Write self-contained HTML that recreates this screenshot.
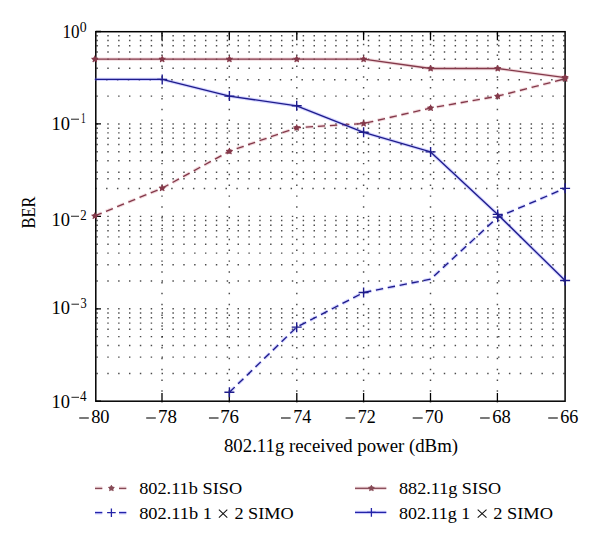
<!DOCTYPE html>
<html><head><meta charset="utf-8"><style>
html,body{margin:0;padding:0;background:#fff;}
body{width:600px;height:547px;overflow:hidden;font-family:"Liberation Serif",serif;}
svg{display:block;}
</style></head><body><svg width="600" height="547" viewBox="0 0 600 547"><g stroke="#000" stroke-width="1.45" stroke-dasharray="1.45 9.405" opacity="0.7"><line x1="96.42" y1="373.40" x2="564.50" y2="373.40"/><line x1="96.42" y1="357.12" x2="564.50" y2="357.12"/><line x1="96.42" y1="345.57" x2="564.50" y2="345.57"/><line x1="96.42" y1="336.61" x2="564.50" y2="336.61"/><line x1="96.42" y1="329.30" x2="564.50" y2="329.30"/><line x1="96.42" y1="323.11" x2="564.50" y2="323.11"/><line x1="96.42" y1="317.75" x2="564.50" y2="317.75"/><line x1="96.42" y1="313.02" x2="564.50" y2="313.02"/><line x1="96.42" y1="308.79" x2="564.50" y2="308.79"/><line x1="96.42" y1="280.97" x2="564.50" y2="280.97"/><line x1="96.42" y1="264.69" x2="564.50" y2="264.69"/><line x1="96.42" y1="253.14" x2="564.50" y2="253.14"/><line x1="96.42" y1="244.18" x2="564.50" y2="244.18"/><line x1="96.42" y1="236.87" x2="564.50" y2="236.87"/><line x1="96.42" y1="230.68" x2="564.50" y2="230.68"/><line x1="96.42" y1="225.32" x2="564.50" y2="225.32"/><line x1="96.42" y1="220.59" x2="564.50" y2="220.59"/><line x1="96.42" y1="216.36" x2="564.50" y2="216.36"/><line x1="95.22" y1="188.54" x2="564.50" y2="188.54"/><line x1="96.42" y1="172.26" x2="564.50" y2="172.26"/><line x1="96.42" y1="160.71" x2="564.50" y2="160.71"/><line x1="96.42" y1="151.75" x2="564.50" y2="151.75"/><line x1="96.42" y1="144.44" x2="564.50" y2="144.44"/><line x1="96.42" y1="138.25" x2="564.50" y2="138.25"/><line x1="96.42" y1="132.89" x2="564.50" y2="132.89"/><line x1="96.42" y1="128.16" x2="564.50" y2="128.16"/><line x1="96.42" y1="123.93" x2="564.50" y2="123.93"/><line x1="96.42" y1="96.11" x2="564.50" y2="96.11"/><line x1="95.22" y1="79.83" x2="564.50" y2="79.83"/><line x1="96.42" y1="68.28" x2="564.50" y2="68.28"/><line x1="96.42" y1="59.32" x2="564.50" y2="59.32"/><line x1="96.42" y1="52.01" x2="564.50" y2="52.01"/><line x1="96.42" y1="45.82" x2="564.50" y2="45.82"/><line x1="96.42" y1="40.46" x2="564.50" y2="40.46"/><line x1="96.42" y1="35.73" x2="564.50" y2="35.73"/><line x1="96.42" y1="178.80" x2="564.50" y2="178.80"/></g><g stroke="#000" stroke-width="1.45" stroke-dasharray="1.45 9.380" opacity="0.7"><line x1="162.00" y1="402.62" x2="162.00" y2="32.30"/><line x1="229.30" y1="402.62" x2="229.30" y2="32.30"/><line x1="296.80" y1="402.62" x2="296.80" y2="32.30"/><line x1="363.60" y1="402.62" x2="363.60" y2="32.30"/><line x1="430.50" y1="402.62" x2="430.50" y2="32.30"/><line x1="497.40" y1="402.62" x2="497.40" y2="32.30"/></g><path d="M162.00 401.20V392.90M162.00 31.70V40.30M229.30 401.20V392.90M229.30 31.70V40.30M296.80 401.20V392.90M296.80 31.70V40.30M363.60 401.20V392.90M363.60 31.70V40.30M430.50 401.20V392.90M430.50 31.70V40.30M497.40 401.20V392.90M497.40 31.70V40.30M95.80 401.22H101.00M95.80 308.79H101.00M95.80 216.36H101.00M95.80 123.93H101.00M95.80 31.50H101.00" stroke="#000" stroke-width="1.3" fill="none"/><rect x="95.8" y="31.7" width="469.30" height="369.50" fill="none" stroke="#000" stroke-width="1.5"/><path d="M94.80 215.96 L162.20 188.14 L229.40 151.28 L296.70 127.72 L363.60 123.53 L430.60 108.00 L497.70 96.21 L565.10 78.77" fill="none" stroke="#d08090" stroke-opacity="0.3" stroke-width="3.4" stroke-linejoin="round" stroke-dasharray="7.4 4.7"/><path d="M94.80 215.96 L162.20 188.14 L229.40 151.28 L296.70 127.72 L363.60 123.53 L430.60 108.00 L497.70 96.21 L565.10 78.77" fill="none" stroke="#84394a" stroke-width="1.35" stroke-linejoin="round" stroke-dasharray="7.4 4.7"/><path d="M94.80 59.16 L162.20 59.16 L229.40 59.16 L296.70 59.16 L363.60 59.16 L430.60 68.48 L497.70 68.48 L565.10 77.62" fill="none" stroke="#d08090" stroke-opacity="0.3" stroke-width="3.4" stroke-linejoin="round"/><path d="M94.80 59.16 L162.20 59.16 L229.40 59.16 L296.70 59.16 L363.60 59.16 L430.60 68.48 L497.70 68.48 L565.10 77.62" fill="none" stroke="#84394a" stroke-width="1.35" stroke-linejoin="round"/><path d="M229.40 392.26 L296.70 327.15 L363.60 292.51 L430.60 279.20 L497.70 217.17 L565.10 188.34" fill="none" stroke="#7070ff" stroke-opacity="0.3" stroke-width="3.4" stroke-linejoin="round" stroke-dasharray="7.4 4.7"/><path d="M229.40 392.26 L296.70 327.15 L363.60 292.51 L430.60 279.20 L497.70 217.17 L565.10 188.34" fill="none" stroke="#1e1c8c" stroke-width="1.35" stroke-linejoin="round" stroke-dasharray="7.4 4.7"/><path d="M94.80 79.38 L162.20 79.38 L229.40 96.11 L296.70 105.82 L363.60 132.29 L430.60 151.92 L497.70 214.40 L565.10 280.57" fill="none" stroke="#7070ff" stroke-opacity="0.3" stroke-width="3.4" stroke-linejoin="round"/><path d="M94.80 79.38 L162.20 79.38 L229.40 96.11 L296.70 105.82 L363.60 132.29 L430.60 151.92 L497.70 214.40 L565.10 280.57" fill="none" stroke="#1e1c8c" stroke-width="1.35" stroke-linejoin="round"/><circle cx="94.80" cy="215.96" r="2.25" fill="#84394a"/><path d="M94.80 215.96L94.80 213.06M94.80 215.96L92.04 215.06M94.80 215.96L93.10 218.31M94.80 215.96L96.50 218.31M94.80 215.96L97.56 215.06" stroke="#84394a" stroke-width="1.3" stroke-linecap="round" fill="none"/><circle cx="162.20" cy="188.14" r="2.25" fill="#84394a"/><path d="M162.20 188.14L162.20 185.24M162.20 188.14L159.44 187.24M162.20 188.14L160.50 190.48M162.20 188.14L163.90 190.48M162.20 188.14L164.96 187.24" stroke="#84394a" stroke-width="1.3" stroke-linecap="round" fill="none"/><circle cx="229.40" cy="151.28" r="2.25" fill="#84394a"/><path d="M229.40 151.28L229.40 148.38M229.40 151.28L226.64 150.38M229.40 151.28L227.70 153.62M229.40 151.28L231.10 153.62M229.40 151.28L232.16 150.38" stroke="#84394a" stroke-width="1.3" stroke-linecap="round" fill="none"/><circle cx="296.70" cy="127.72" r="2.25" fill="#84394a"/><path d="M296.70 127.72L296.70 124.82M296.70 127.72L293.94 126.82M296.70 127.72L295.00 130.06M296.70 127.72L298.40 130.06M296.70 127.72L299.46 126.82" stroke="#84394a" stroke-width="1.3" stroke-linecap="round" fill="none"/><circle cx="363.60" cy="123.53" r="2.25" fill="#84394a"/><path d="M363.60 123.53L363.60 120.63M363.60 123.53L360.84 122.63M363.60 123.53L361.90 125.88M363.60 123.53L365.30 125.88M363.60 123.53L366.36 122.63" stroke="#84394a" stroke-width="1.3" stroke-linecap="round" fill="none"/><circle cx="430.60" cy="108.00" r="2.25" fill="#84394a"/><path d="M430.60 108.00L430.60 105.10M430.60 108.00L427.84 107.11M430.60 108.00L428.90 110.35M430.60 108.00L432.30 110.35M430.60 108.00L433.36 107.11" stroke="#84394a" stroke-width="1.3" stroke-linecap="round" fill="none"/><circle cx="497.70" cy="96.21" r="2.25" fill="#84394a"/><path d="M497.70 96.21L497.70 93.31M497.70 96.21L494.94 95.31M497.70 96.21L496.00 98.55M497.70 96.21L499.40 98.55M497.70 96.21L500.46 95.31" stroke="#84394a" stroke-width="1.3" stroke-linecap="round" fill="none"/><circle cx="565.10" cy="78.77" r="2.25" fill="#84394a"/><path d="M565.10 78.77L565.10 75.87M565.10 78.77L562.34 77.88M565.10 78.77L563.40 81.12M565.10 78.77L566.80 81.12M565.10 78.77L567.86 77.88" stroke="#84394a" stroke-width="1.3" stroke-linecap="round" fill="none"/><circle cx="94.80" cy="59.16" r="2.25" fill="#84394a"/><path d="M94.80 59.16L94.80 56.26M94.80 59.16L92.04 58.27M94.80 59.16L93.10 61.51M94.80 59.16L96.50 61.51M94.80 59.16L97.56 58.27" stroke="#84394a" stroke-width="1.3" stroke-linecap="round" fill="none"/><circle cx="162.20" cy="59.16" r="2.25" fill="#84394a"/><path d="M162.20 59.16L162.20 56.26M162.20 59.16L159.44 58.27M162.20 59.16L160.50 61.51M162.20 59.16L163.90 61.51M162.20 59.16L164.96 58.27" stroke="#84394a" stroke-width="1.3" stroke-linecap="round" fill="none"/><circle cx="229.40" cy="59.16" r="2.25" fill="#84394a"/><path d="M229.40 59.16L229.40 56.26M229.40 59.16L226.64 58.27M229.40 59.16L227.70 61.51M229.40 59.16L231.10 61.51M229.40 59.16L232.16 58.27" stroke="#84394a" stroke-width="1.3" stroke-linecap="round" fill="none"/><circle cx="296.70" cy="59.16" r="2.25" fill="#84394a"/><path d="M296.70 59.16L296.70 56.26M296.70 59.16L293.94 58.27M296.70 59.16L295.00 61.51M296.70 59.16L298.40 61.51M296.70 59.16L299.46 58.27" stroke="#84394a" stroke-width="1.3" stroke-linecap="round" fill="none"/><circle cx="363.60" cy="59.16" r="2.25" fill="#84394a"/><path d="M363.60 59.16L363.60 56.26M363.60 59.16L360.84 58.27M363.60 59.16L361.90 61.51M363.60 59.16L365.30 61.51M363.60 59.16L366.36 58.27" stroke="#84394a" stroke-width="1.3" stroke-linecap="round" fill="none"/><circle cx="430.60" cy="68.48" r="2.25" fill="#84394a"/><path d="M430.60 68.48L430.60 65.58M430.60 68.48L427.84 67.59M430.60 68.48L428.90 70.83M430.60 68.48L432.30 70.83M430.60 68.48L433.36 67.59" stroke="#84394a" stroke-width="1.3" stroke-linecap="round" fill="none"/><circle cx="497.70" cy="68.48" r="2.25" fill="#84394a"/><path d="M497.70 68.48L497.70 65.58M497.70 68.48L494.94 67.59M497.70 68.48L496.00 70.83M497.70 68.48L499.40 70.83M497.70 68.48L500.46 67.59" stroke="#84394a" stroke-width="1.3" stroke-linecap="round" fill="none"/><circle cx="565.10" cy="77.62" r="2.25" fill="#84394a"/><path d="M565.10 77.62L565.10 74.72M565.10 77.62L562.34 76.72M565.10 77.62L563.40 79.96M565.10 77.62L566.80 79.96M565.10 77.62L567.86 76.72" stroke="#84394a" stroke-width="1.3" stroke-linecap="round" fill="none"/><path d="M224.40 392.26H234.40M229.40 387.26V397.26" stroke="#1e1c8c" stroke-width="1.4" fill="none"/><path d="M291.70 327.15H301.70M296.70 322.15V332.15" stroke="#1e1c8c" stroke-width="1.4" fill="none"/><path d="M358.60 292.51H368.60M363.60 287.51V297.51" stroke="#1e1c8c" stroke-width="1.4" fill="none"/><path d="M492.70 217.17H502.70M497.70 212.17V222.17" stroke="#1e1c8c" stroke-width="1.4" fill="none"/><path d="M560.10 188.34H570.10M565.10 183.34V193.34" stroke="#1e1c8c" stroke-width="1.4" fill="none"/><path d="M157.20 79.38H167.20M162.20 74.38V84.38" stroke="#1e1c8c" stroke-width="1.4" fill="none"/><path d="M224.40 96.11H234.40M229.40 91.11V101.11" stroke="#1e1c8c" stroke-width="1.4" fill="none"/><path d="M291.70 105.82H301.70M296.70 100.82V110.82" stroke="#1e1c8c" stroke-width="1.4" fill="none"/><path d="M358.60 132.29H368.60M363.60 127.29V137.29" stroke="#1e1c8c" stroke-width="1.4" fill="none"/><path d="M425.60 151.92H435.60M430.60 146.92V156.92" stroke="#1e1c8c" stroke-width="1.4" fill="none"/><path d="M492.70 214.40H502.70M497.70 209.40V219.40" stroke="#1e1c8c" stroke-width="1.4" fill="none"/><path d="M560.10 280.57H570.10M565.10 275.57V285.57" stroke="#1e1c8c" stroke-width="1.4" fill="none"/><g font-family="Liberation Serif" fill="#000"><text transform="translate(91.17 422.60) scale(1.0338 1)" font-size="17.8">80</text><text transform="translate(157.92 422.60) scale(1.0667 1)" font-size="17.8">78</text><text transform="translate(220.17 422.60) scale(1.0625 1)" font-size="17.8">76</text><text transform="translate(293.18 422.85) scale(1.0185 1)" font-size="17.8">74</text><text transform="translate(357.73 422.85) scale(1.0161 1)" font-size="17.8">72</text><text transform="translate(424.73 422.60) scale(1.0540 1)" font-size="17.8">70</text><text transform="translate(492.27 422.60) scale(1.0462 1)" font-size="17.8">68</text><text transform="translate(560.19 422.60) scale(1.0182 1)" font-size="17.8">66</text><text transform="translate(62.58 37.80) scale(0.9492 1)" font-size="18.0">10</text><text transform="translate(51.61 129.80) scale(1.0286 1)" font-size="18.0">10</text><text transform="translate(51.61 226.30) scale(1.0286 1)" font-size="18.0">10</text><text transform="translate(51.61 314.40) scale(1.0286 1)" font-size="18.0">10</text><text transform="translate(51.61 407.80) scale(1.0286 1)" font-size="18.0">10</text><text transform="translate(79.75 31.95) scale(1.0000 1)" font-size="13.8">0</text><text transform="translate(81.11 123.15) scale(0.6737 1)" font-size="13.8">1</text><text transform="translate(80.18 220.25) scale(0.9304 1)" font-size="13.8">2</text><text transform="translate(80.38 308.15) scale(0.9000 1)" font-size="13.8">3</text><text transform="translate(80.01 401.05) scale(0.9538 1)" font-size="13.8">4</text><text transform="translate(139.14 494.10) scale(1.0827 1)" font-size="16.9">802.11b SISO</text><text transform="translate(139.13 518.50) scale(1.0889 1)" font-size="16.9">802.11b 1</text><text transform="translate(234.44 518.50) scale(1.0804 1)" font-size="16.9">2 SIMO</text><text transform="translate(399.04 494.20) scale(1.0741 1)" font-size="16.9">882.11g SISO</text><text transform="translate(399.05 518.50) scale(1.0651 1)" font-size="16.9">802.11g 1</text><text transform="translate(493.18 518.50) scale(1.0888 1)" font-size="16.9">2 SIMO</text><text transform="translate(223.96 451.50) scale(1.0499 1)" font-size="17.9">802.11g received power (dBm)</text><text transform="translate(34.85 228.39) rotate(-90) scale(0.8873 1.0167)" font-size="18.5">BER</text></g><g fill="#222"><rect x="79.20" y="417.4" width="9.60" height="1.2"/><rect x="146.20" y="417.4" width="9.60" height="1.2"/><rect x="208.95" y="417.4" width="9.60" height="1.2"/><rect x="281.00" y="417.4" width="9.60" height="1.2"/><rect x="345.60" y="417.4" width="9.60" height="1.2"/><rect x="412.70" y="417.4" width="10.00" height="1.2"/><rect x="480.10" y="417.4" width="9.60" height="1.2"/><rect x="548.20" y="417.4" width="9.60" height="1.2"/><rect x="71.00" y="118.70" width="8.00" height="1.0"/><rect x="71.00" y="215.75" width="8.00" height="1.0"/><rect x="71.45" y="303.70" width="7.55" height="1.0"/><rect x="71.45" y="396.80" width="7.55" height="1.0"/></g><path d="M218.90 509.60L227.30 517.65M227.30 509.60L218.90 517.65M477.70 509.60L486.50 517.65M486.50 509.60L477.70 517.65" stroke="#111" stroke-width="1.05" fill="none"/><path d="M95.00 488.3H102.30M119.00 488.3H126.30" stroke="#d08090" stroke-opacity="0.3" stroke-width="3.4"/><path d="M95.00 488.3H102.30M119.00 488.3H126.30" stroke="#864a56" stroke-width="1.3"/><circle cx="111.40" cy="488.30" r="2.25" fill="#864a56"/><path d="M111.40 488.30L111.40 485.60M111.40 488.30L108.83 487.47M111.40 488.30L109.81 490.48M111.40 488.30L112.99 490.48M111.40 488.30L113.97 487.47" stroke="#864a56" stroke-width="1.3" stroke-linecap="round" fill="none"/><path d="M95.00 512.7H102.30M119.00 512.7H126.30" stroke="#7070ff" stroke-opacity="0.3" stroke-width="3.4"/><path d="M95.00 512.7H102.30M119.00 512.7H126.30" stroke="#2424a8" stroke-width="1.3"/><path d="M107.10 512.70H115.70M111.40 508.40V517.00" stroke="#2424a8" stroke-width="1.3" fill="none"/><path d="M355.00 488.3H386.30" stroke="#d08090" stroke-opacity="0.3" stroke-width="3.4"/><path d="M355.00 488.3H386.30" stroke="#864a56" stroke-width="1.3"/><circle cx="371.40" cy="488.30" r="2.25" fill="#864a56"/><path d="M371.40 488.30L371.40 485.60M371.40 488.30L368.83 487.47M371.40 488.30L369.81 490.48M371.40 488.30L372.99 490.48M371.40 488.30L373.97 487.47" stroke="#864a56" stroke-width="1.3" stroke-linecap="round" fill="none"/><path d="M355.00 512.4H386.30" stroke="#7070ff" stroke-opacity="0.3" stroke-width="3.4"/><path d="M355.00 512.4H386.30" stroke="#2424a8" stroke-width="1.3"/><path d="M367.10 512.40H375.70M371.40 508.10V516.70" stroke="#2424a8" stroke-width="1.3" fill="none"/></svg></body></html>
